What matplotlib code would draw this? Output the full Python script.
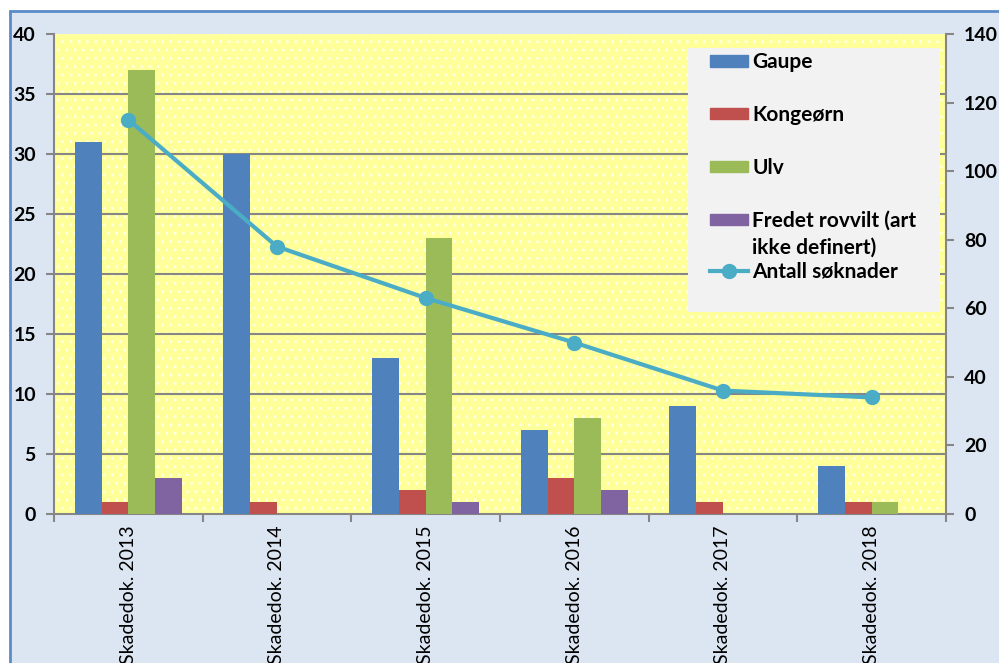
import numpy as np
import matplotlib.pyplot as plt
from matplotlib.patches import Rectangle
from matplotlib.lines import Line2D

## Data
years = ['Skadedok. 2013', 'Skadedok. 2014', 'Skadedok. 2015',
         'Skadedok. 2016', 'Skadedok. 2017', 'Skadedok. 2018']
gaupe = [31, 30, 13, 7, 9, 4]
kongeorn = [1, 1, 2, 3, 1, 1]
ulv = [37, 0, 23, 8, 0, 1]
fredet = [3, 0, 1, 2, 0, 0]
soknader = [115, 78, 63, 50, 36, 34]

labels = ['Gaupe', 'Kongeørn', 'Ulv', 'Fredet rovvilt (art', 'ikke definert)', 'Antall søknader']
colors = ['#4f81bd', '#c0504d', '#9bbb59', '#8064a2']
linecolor = '#4bacc6'

plt.rcParams['font.family'] = ['Lato', 'DejaVu Sans']
W, H = 999, 663

fig = plt.figure(figsize=(W/100, H/100), dpi=100, facecolor='white')
# outer chart frame
fig.patches.append(Rectangle((10/W, -0.05), 1.0, 1.05 - 11/H, transform=fig.transFigure,
                             facecolor='#dce6f2', edgecolor='#5b8bc9', linewidth=2, zorder=-5))

ax = fig.add_axes([54/W, 149/H, 892/W, 480/H])
ax.set_facecolor('#ffff99')
ax.add_patch(Rectangle((0, 0), 1, 1, transform=ax.transAxes, facecolor='none',
                       edgecolor='white', hatch='..', linewidth=0, zorder=0.5, alpha=0.6))

x = np.arange(len(years))
w = 0.18
series = [gaupe, kongeorn, ulv, fredet]
for k, vals in enumerate(series):
    ax.bar(x + (k - 1.5) * w, vals, w, color=colors[k], zorder=3)

ax.set_xlim(-0.5, len(years) - 0.5)
ax.set_ylim(0, 40)
ax.set_yticks(range(0, 41, 5))
for yv in range(5, 40, 5):
    ax.axhline(yv, color='#868686', linewidth=1.5, zorder=1)

ax.set_xticks(x)
ax.set_xticklabels(years, rotation=90, fontsize=14, va='top')
ax.set_xticks(np.arange(-0.5, len(years)), minor=True)
ax.tick_params(axis='x', which='major', length=0, pad=8)
ax.tick_params(axis='x', which='minor', length=6, width=1.5, color='#868686', direction='out')
ax.tick_params(axis='y', length=6, width=1.5, color='#868686', labelsize=14, pad=7)
for t in ax.get_yticklabels():
    t.set_fontweight('bold')

for s in ['left', 'bottom']:
    ax.spines[s].set_color('#868686')
    ax.spines[s].set_linewidth(1.5)
ax.spines['top'].set_visible(False)
ax.spines['right'].set_visible(False)

ax2 = ax.twinx()
ax2.plot(x, soknader, color=linecolor, linewidth=3, marker='o', markersize=10, zorder=5)
ax2.set_ylim(0, 140)
ax2.set_yticks(range(0, 141, 20))
ax2.tick_params(axis='y', length=6, width=1.5, color='#868686', labelsize=14, pad=7)
for t in ax2.get_yticklabels():
    t.set_fontweight('bold')
ax2.spines['right'].set_color('#868686')
ax2.spines['right'].set_linewidth(1.5)
for s in ['left', 'top', 'bottom']:
    ax2.spines[s].set_visible(False)

## Legend: gray box with two frameless legends
fig.patches.append(Rectangle((688/W, (H - 312)/H), 252/W, 264/H, transform=fig.transFigure,
                             facecolor='#f2f2f2', edgecolor='none', zorder=1))
bar_handles = [Rectangle((0, 0), 1, 1, color=c) for c in colors]
blank = Line2D([], [], color='none')
line_handle = Line2D([], [], color=linecolor, linewidth=3, marker='o', markersize=10)
legkw = dict(loc='upper left', bbox_transform=fig.transFigure, frameon=False, borderpad=0,
             handlelength=1.8, handleheight=0.45, handletextpad=0.2,
             prop={'size': 15, 'weight': 'bold'})
fig.legend(bar_handles, labels[:4], bbox_to_anchor=(700/W, (H - 42)/H), labelspacing=1.57, **legkw)
fig.legend([blank, line_handle], labels[4:], bbox_to_anchor=(700/W, (H - 227)/H), labelspacing=0.22, **legkw)

fig.savefig('out.png', dpi=100, facecolor='white')
